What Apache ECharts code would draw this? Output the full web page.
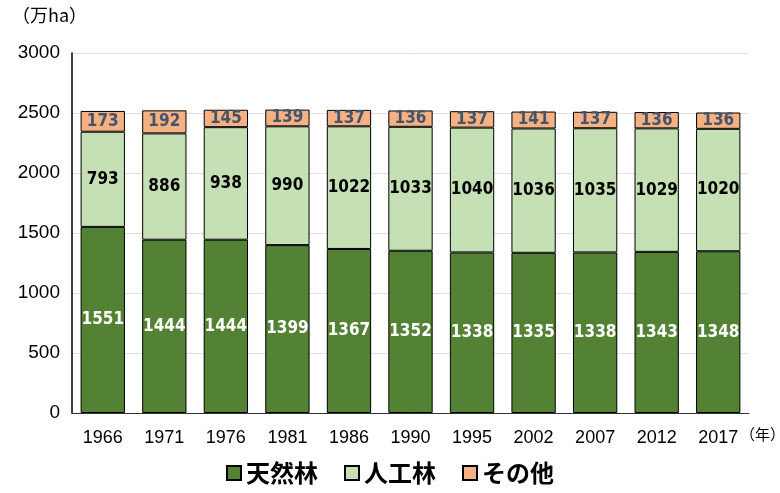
<!DOCTYPE html>
<html>
<head>
<meta charset="utf-8">
<script src="https://cdn.jsdelivr.net/npm/echarts@6/dist/echarts.min.js"></script>
<style>
html, body { margin: 0; padding: 0; background: #fff; }
#main { width: 780px; height: 493px; }
</style>
</head>
<body>
<div id="main"></div>
<script>
'use strict';

let years = ['1966', '1971', '1976', '1981', '1986', '1990', '1995', '2002', '2007', '2012', '2017'];
let natural = [1551, 1444, 1444, 1399, 1367, 1352, 1338, 1335, 1338, 1343, 1348];
let planted = [793, 886, 938, 990, 1022, 1033, 1040, 1036, 1035, 1029, 1020];
let other = [173, 192, 145, 139, 137, 136, 137, 141, 137, 136, 136];

let narrow = '"DejaVu Sans Condensed", "Liberation Sans Narrow", sans-serif';
let cjk = '"Noto Sans CJK JP", sans-serif';

let myChart = echarts.init(document.getElementById('main'));

function barSeries(name, data, color, labelColor) {
	return {
		name: name,
		type: 'bar',
		stack: 'total',
		data: data,
		barCategoryGap: '28%',
		itemStyle: {
			color: color,
			borderColor: '#000',
			borderWidth: 1
		},
		label: {
			show: true,
			position: 'inside',
			color: labelColor,
			fontFamily: narrow,
			fontWeight: 'bold',
			fontSize: 17
		}
	};
}

let option = {
	animation: false,
	backgroundColor: '#fff',
	grid: {
		left: 72,
		right: 31,
		top: 53,
		bottom: 80
	},
	graphic: [{
		type: 'text',
		left: 12,
		top: 6,
		style: {
			text: '（万ha）',
			font: '18px ' + cjk,
			fill: '#000'
		}
	}, {
		type: 'text',
		left: 740,
		top: 427,
		style: {
			text: '（年）',
			font: '15px ' + cjk,
			fill: '#000'
		}
	}],
	legend: {
		bottom: 3,
		left: 'center',
		itemWidth: 14,
		itemHeight: 14,
		itemGap: 26,
		icon: 'rect',
		textStyle: {
			fontFamily: cjk,
			fontWeight: 'bold',
			fontSize: 24,
			color: '#000'
		},
		data: ['天然林', '人工林', 'その他']
	},
	xAxis: {
		type: 'category',
		data: years,
		axisLine: { lineStyle: { color: '#333' } },
		axisTick: { show: false },
		axisLabel: {
			color: '#000',
			fontFamily: '"Liberation Sans", sans-serif',
			fontSize: 18,
			margin: 16
		}
	},
	yAxis: {
		type: 'value',
		min: 0,
		max: 3000,
		interval: 500,
		axisLine: { show: true, lineStyle: { color: '#000', width: 1.5 } },
		axisTick: { show: false },
		splitLine: { lineStyle: { color: '#dde0e6' } },
		axisLabel: {
			color: '#000',
			fontFamily: '"Liberation Sans", sans-serif',
			fontSize: 19,
			margin: 12,
			formatter: function (v) { return String(v); }
		}
	},
	series: [
		barSeries('天然林', natural, '#548235', '#fff'),
		barSeries('人工林', planted, '#c5e0b4', '#000'),
		barSeries('その他', other, '#f4b183', '#44546a')
	]
};
myChart.setOption(option);
</script>
</body>
</html>
